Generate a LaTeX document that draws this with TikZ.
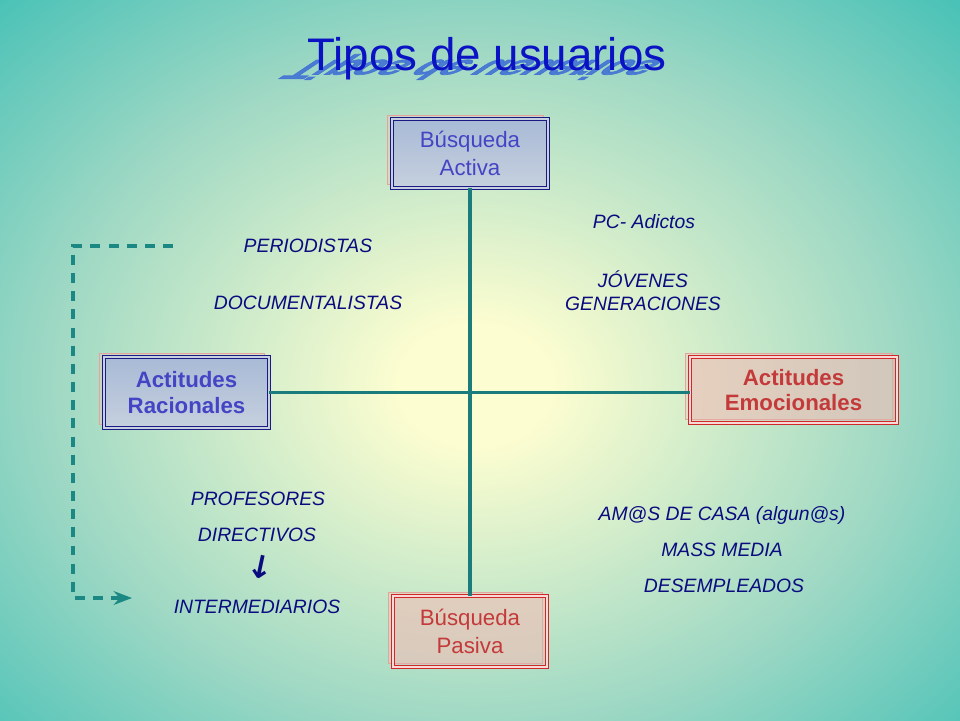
\documentclass[tikz,border=0pt]{standalone}
\usepackage{fontspec}
\setmainfont{Liberation Sans}
\newfontfamily\arrowfont{DejaVu Sans}
\newfontfamily\mirrorfont[FakeBold=2.5]{Liberation Sans Bold}
\usetikzlibrary{arrows.meta, positioning, shadows}
\definecolor{bgedge}{HTML}{1EB6B0}
\definecolor{bgmid}{HTML}{9ED8C4}
\definecolor{bgcentre}{HTML}{FCFDD0}
\definecolor{usernavy}{HTML}{0B0B80}
\definecolor{titleblue}{HTML}{0A12C4}
\definecolor{mirrorblue}{HTML}{4272D4}
\definecolor{axisteal}{HTML}{1A7C7C}
\definecolor{dashteal}{HTML}{1C8884}
\definecolor{boxnavy}{HTML}{1A1A84}
\definecolor{boxred}{HTML}{D02828}
\definecolor{activetext}{HTML}{4444C4}
\definecolor{passivetext}{HTML}{C43A3A}
\definecolor{bluetop}{HTML}{A8BAD6}
\definecolor{bluebottom}{HTML}{C6D0DE}
\definecolor{redfill}{HTML}{F0B4B0}
\definecolor{shadowpink}{HTML}{F2C8C0}
\definecolor{shadowline}{HTML}{E2A49C}
\pgfdeclareradialshading{bgglow}{\pgfpoint{0bp}{0bp}}{color(0bp)=(bgcentre); color(4bp)=(bgcentre); color(22bp)=(bgmid); color(42bp)=(bgedge); color(50bp)=(bgedge)}

\begin{document}
\begin{tikzpicture}[
    x=0.3mm, y=-0.3mm,
    >=Stealth,
    titletext/.style={font=\fontsize{39}{44}\selectfont, text=titleblue, inner sep=0pt},
    titlemirror/.style={titletext, font=\mirrorfont\fontsize{39}{44}\selectfont, text=mirrorblue, text opacity=0.9},
    box/.style={line width=0.8pt, double distance=1.3pt, align=center, inner sep=2pt,
      general shadow={fill=shadowpink, fill opacity=0.45, draw=shadowline, shadow xshift=-1.5mm, shadow yshift=1.2mm}},
    bluebox/.style={box, draw=boxnavy, double=bluebottom, top color=bluetop, bottom color=bluebottom},
    redbox/.style={box, draw=boxred, double=redfill!50!white, fill=redfill, fill opacity=0.3, text opacity=1},
    searchtext/.style={font=\fontsize{19}{24}\selectfont},
    attitudetext/.style={font=\fontsize{19}{22}\selectfont\bfseries},
    usertext/.style={font=\fontsize{16.5}{20}\selectfont\itshape, text=usernavy, inner sep=0pt, anchor=base},
    crossline/.style={line width=3pt, axisteal},
    flow/.style={->, line width=2.8pt, dashteal, dash pattern=on 8.5pt off 7pt}
  ]
    % background
    \useasboundingbox (0,0) rectangle (960,720);
    \begin{scope}
      \clip (0,0) rectangle (960,720);
      \shade[shading=bgglow] (-10,0) rectangle (960,770);
    \end{scope}

    % title and its mirror
    \begin{scope}[shift={(486,60)}, xslant=1.5, yscale=-0.6, xscale=0.92]
      \node[titlemirror, anchor=base, transform shape] (mirror) at (0,0) {Tipos de usuarios};
    \end{scope}
    \node[titletext, anchor=base] (title) at (487,70) {Tipos de usuarios};

    % the four poles
    \node[bluebox, searchtext, text=activetext, minimum width=46.8mm, minimum height=20.7mm] (activa) at (470,153.5) {Búsqueda\\Activa};
    \node[redbox, searchtext, text=passivetext, minimum width=46.2mm, minimum height=21.3mm] (pasiva) at (470,631.5) {Búsqueda\\Pasiva};
    \node[bluebox, attitudetext, text=activetext, minimum width=49.5mm, minimum height=21.3mm] (racional) at (186.5,392.5) {Actitudes\\Racionales};
    \node[redbox, attitudetext, text=passivetext, minimum width=62.1mm, minimum height=19.8mm] (emocional) at (793.5,390) {Actitudes\\Emocionales};

    \draw[crossline] (activa) -- (pasiva);
    \draw[crossline] (racional.east) -- (racional.east -| emocional.west);

    % user groups
    \node[usertext] (periodistas) at (308,252) {PERIODISTAS};
    \node[usertext] (documentalistas) at (308,309) {DOCUMENTALISTAS};
    \node[usertext] (adictos) at (644,228) {PC- Adictos};
    \node[usertext, align=center, anchor=north] (jovenes) at (643,270) {JÓVENES\\GENERACIONES};
    \node[usertext] (profesores) at (258,505) {PROFESORES};
    \node[usertext] (directivos) at (257,541) {DIRECTIVOS};
    \node[text=usernavy, font=\arrowfont\bfseries\fontsize{27}{27}\selectfont, inner sep=0pt, rotate=-12] (down) at (261,567) {↓};
    \node[usertext] (intermediarios) at (257,613) {INTERMEDIARIOS};
    \node[usertext] (amas) at (722,520) {AM@S DE CASA (algun@s)};
    \node[usertext] (media) at (722,556) {MASS MEDIA};
    \node[usertext] (parados) at (724,592) {DESEMPLEADOS};

    % dashed feedback
    \coordinate (dashstart) at (173,246);
    \coordinate (dashcorner) at (73,246);
    \coordinate (dashend) at (132,598);
    \draw[flow] (dashstart) -- (dashcorner) |- (dashend);
  \end{tikzpicture}
\end{document}
